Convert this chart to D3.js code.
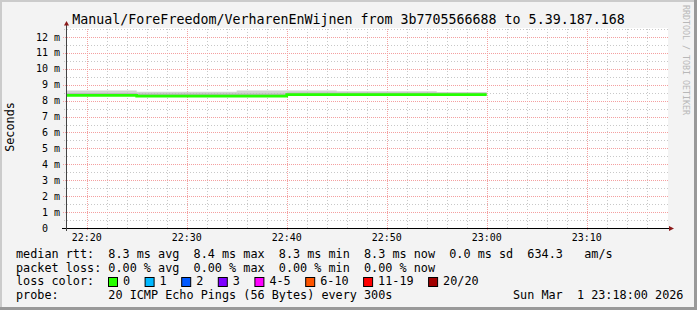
<!DOCTYPE html>
<html>
<head>
<meta charset="utf-8">
<script src="https://cdn.jsdelivr.net/npm/d3@7"></script>
<style>
  body { margin: 0; background: #f3f3f3; }
  svg text { white-space: pre; }
</style>
</head>
<body>
<div id="chart"></div>
<script>
// smokeping style graph, steps of 300s (value covers the 5 min before its time)
var stepTimes = ["22:20", "22:25", "22:30", "22:35", "22:40", "22:45", "22:50", "22:55", "23:00"];
var median   = [8.33, 8.33, 8.28, 8.28, 8.28, 8.38, 8.38, 8.38, 8.38];
var smokeTop = [8.63, 8.63, 8.56, 8.56, 8.63, 8.63, 8.59, 8.59, 8.54];
var smokeMid = [8.50, 8.50, 8.46, 8.46, 8.46, 8.53, 8.53, 8.53, 8.51];
var smokeLow = [8.30, 8.30, 8.25, 8.25, 8.25, 8.35, 8.35, 8.35, 8.35];

var yTicks = [0, 1, 2, 3, 4, 5, 6, 7, 8, 9, 10, 11, 12];
var lossLabels = ["0", "1", "2", "3", "4-5", "6-10", "11-19", "20/20"];
var lossColors = ["#26ff00", "#00b8ff", "#0059ff", "#7e00ff", "#ff00ff", "#ff5500", "#ff0000", "#a10000"];

var legendLines = [
  "median rtt:  8.3 ms avg  8.4 ms max  8.3 ms min  8.3 ms now  0.0 ms sd  634.3   am/s",
  "packet loss: 0.00 % avg  0.00 % max  0.00 % min  0.00 % now"
];
var titleText = "Manual/ForeFreedom/VerharenEnWijnen from 3b7705566688 to 5.39.187.168";
var probeText = "probe:       20 ICMP Echo Pings (56 Bytes) every 300s";
var dateText = "Sun Mar  1 23:18:00 2026";

var W = 697, H = 310;
var mono = "'DejaVu Sans Mono', monospace";
var parse = d3.timeParse("%Y-%m-%d %H:%M");
var day = "2026-03-01 ";
var tStart = parse(day + "22:18"), tEnd = parse(day + "23:18");

var svg = d3.select("#chart").append("svg")
  .attr("width", W).attr("height", H);

// background + the rrdtool shade frame
svg.append("rect").attr("width", W).attr("height", H).attr("fill", "#f3f3f3");
svg.append("rect").attr("x", 0).attr("y", 0).attr("width", W).attr("height", 2).attr("fill", "#cbcbcb");
svg.append("rect").attr("x", 0).attr("y", 0).attr("width", 2).attr("height", H).attr("fill", "#cbcbcb");
svg.append("rect").attr("x", 0).attr("y", H - 3).attr("width", W).attr("height", 3).attr("fill", "#999");
svg.append("rect").attr("x", W - 3).attr("y", 0).attr("width", 3).attr("height", H).attr("fill", "#999");

var x = d3.scaleTime().domain([tStart, tEnd]).range([66.7, 666.7]);
var y = d3.scaleLinear().domain([0, 12.5]).range([228, 29]);

// white canvas
svg.append("rect")
  .attr("x", 67).attr("y", 28)
  .attr("width", 601).attr("height", 200)
  .attr("fill", "#fff");

svg.append("clipPath").attr("id", "clip")
  .append("rect").attr("x", 67).attr("y", 28).attr("width", 601).attr("height", 200);

// grid
var grid = svg.append("g");
var minorX = d3.timeMinute.every(2).range(d3.timeMinute.offset(tStart, 1), tEnd)
  .filter(function(d) { return d.getMinutes() % 10 != 0; });
var majorX = d3.timeMinute.every(10).range(tStart, tEnd);

grid.selectAll(".vminor").data(minorX).enter().append("line")
  .attr("x1", function(d) { return Math.round(x(d)) + 0.5; })
  .attr("x2", function(d) { return Math.round(x(d)) + 0.5; })
  .attr("y1", 29).attr("y2", 230)
  .attr("stroke", "#c8c8c8").attr("stroke-dasharray", "1,2");

var halfs = d3.range(0.5, 12.6, 1);
grid.selectAll(".hminor").data(halfs).enter().append("line")
  .attr("x1", 64).attr("x2", 668)
  .attr("y1", function(d) { return Math.round(y(d)) + 0.5; })
  .attr("y2", function(d) { return Math.round(y(d)) + 0.5; })
  .attr("stroke", "#c8c8c8").attr("stroke-dasharray", "1,2");

grid.selectAll(".vmajor").data(majorX).enter().append("line")
  .attr("x1", function(d) { return Math.round(x(d)) + 0.5; })
  .attr("x2", function(d) { return Math.round(x(d)) + 0.5; })
  .attr("y1", 29).attr("y2", 231)
  .attr("stroke", "#f4a0a0").attr("stroke-dasharray", "1,1");

grid.selectAll(".hmajor").data(yTicks.slice(1)).enter().append("line")
  .attr("x1", 63).attr("x2", 668)
  .attr("y1", function(d) { return Math.round(y(d)) + 0.5; })
  .attr("y2", function(d) { return Math.round(y(d)) + 0.5; })
  .attr("stroke", "#f4a0a0").attr("stroke-dasharray", "1,1");

// data as steps: point at start of each 5 min + final end point
function stepPoints(vals) {
  var pts = stepTimes.map(function(t, i) {
    return { t: d3.timeMinute.offset(parse(day + t), -5), v: vals[i] };
  });
  pts.push({ t: parse(day + stepTimes[stepTimes.length - 1]), v: vals[vals.length - 1] });
  return pts;
}

var plot = svg.append("g").attr("clip-path", "url(#clip)");

function band(lo, hi, col) {
  var a = stepPoints(lo), b = stepPoints(hi);
  var pts = a.map(function(d, i) { return { t: d.t, lo: d.v, hi: b[i].v }; });
  plot.append("path").datum(pts)
    .attr("fill", col)
    .attr("d", d3.area().curve(d3.curveStepAfter)
      .x(function(d) { return x(d.t); })
      .y0(function(d) { return y(d.lo); })
      .y1(function(d) { return y(d.hi); }));
}
band(smokeMid, smokeTop, "#d2d2d2");
band(smokeLow, smokeMid, "#b8b8b8");

plot.append("path").datum(stepPoints(median))
  .attr("fill", "none")
  .attr("stroke", lossColors[0])
  .attr("stroke-width", 2.7)
  .attr("d", d3.line().curve(d3.curveStepAfter)
    .x(function(d) { return x(d.t); })
    .y(function(d) { return y(d.v); }));

// axes
svg.append("line").attr("x1", 62).attr("x2", 669).attr("y1", 228.5).attr("y2", 228.5)
  .attr("stroke", "#000");
svg.append("line").attr("x1", 66.5).attr("x2", 66.5).attr("y1", 231).attr("y2", 25)
  .attr("stroke", "#444");
svg.append("path").attr("d", "M64,25.5 L69,25.5 L66.5,21 Z").attr("fill", "#8b1a1a");
svg.append("path").attr("d", "M669,226 L669,231 L674,228.5 Z").attr("fill", "#8b1a1a");

// tick labels
svg.selectAll(".xl").data(majorX.filter(function(d) { return d > tStart; })).enter().append("text")
  .attr("x", function(d) { return x(d); })
  .attr("y", 240.7)
  .attr("text-anchor", "middle")
  .attr("font-family", mono).attr("font-size", "10px").attr("fill", "#000")
  .text(d3.timeFormat("%H:%M"));

svg.selectAll(".yl").data(yTicks).enter().append("text")
  .attr("x", 60)
  .attr("y", function(d) { return y(d) + 3.6; })
  .attr("text-anchor", "end")
  .attr("font-family", mono).attr("font-size", "10px").attr("fill", "#000")
  .text(function(d) { return d == 0 ? "0  " : d + " m"; });

// title, axis name, watermark
svg.append("text").attr("x", 348.5).attr("y", 24)
  .attr("text-anchor", "middle")
  .attr("font-family", mono).attr("font-size", "13.3px").attr("fill", "#000")
  .text(titleText);

svg.append("text")
  .attr("transform", "translate(14,127) rotate(-90)")
  .attr("text-anchor", "middle")
  .attr("font-family", mono).attr("font-size", "11.8px").attr("fill", "#000")
  .text("Seconds");

svg.append("text")
  .attr("transform", "translate(683,60) rotate(90)")
  .attr("text-anchor", "middle")
  .attr("font-family", mono).attr("font-size", "8.3px").attr("fill", "#b8b8b8")
  .text("RRDTOOL / TOBI OETIKER");

// legend
var lg = svg.append("g").attr("font-family", mono).attr("font-size", "11.8px").attr("fill", "#000");
lg.selectAll(".ln").data(legendLines).enter().append("text")
  .attr("x", 16).attr("y", function(d, i) { return 258 + i * 13.6; })
  .text(function(d) { return d; });

lg.append("text").attr("x", 16).attr("y", 285.2).text("loss color:");
var cw = 7.1, bx = 108.5;
lossLabels.forEach(function(l, i) {
  lg.append("rect").attr("x", bx).attr("y", 277.5).attr("width", 9).attr("height", 9)
    .attr("fill", lossColors[i]).attr("stroke", "#000").attr("stroke-width", 1);
  lg.append("text").attr("x", bx + 14.5).attr("y", 285.2).text(l);
  bx += 14.5 + l.length * cw + 15;
});

lg.append("text").attr("x", 16).attr("y", 298.8).text(probeText);
lg.append("text").attr("x", 513).attr("y", 298.8).text(dateText);
</script>
</body>
</html>
